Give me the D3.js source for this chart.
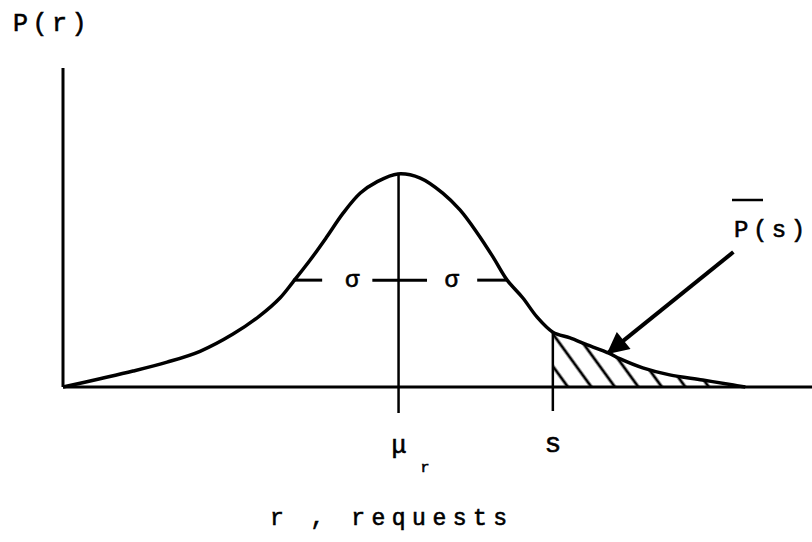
<!DOCTYPE html>
<html>
<head>
<meta charset="utf-8">
<title>P(r) normal curve</title>
<script src="https://cdn.jsdelivr.net/npm/d3@7"></script>
<style>
  body { margin: 0; background: #fff; }
  text { font-family: "Liberation Mono", "DejaVu Sans Mono", monospace; fill: #000; stroke: #000; stroke-width: 0.6px; }
</style>
</head>
<body>
<div id="chart"></div>
<script>
// hand drawn demand curve (r in arbitrary units, P relative)
var curveR = [0, 4.94, 9.35, 13.9, 18.3, 22.7, 26.3, 29.0, 30.7, 33.0, 35.2, 37.4, 39.7, 41.9, 44.7, 47.7, 50.7, 53.0, 55.3, 57.4, 59.3, 61.4, 63.3, 65.4, 67.7, 70.0, 72.8, 74.4, 77.4, 81.0, 85.4, 89.5, 91.1];
var curveP = [0, 0.026, 0.050, 0.078, 0.112, 0.166, 0.224, 0.280, 0.329, 0.398, 0.470, 0.545, 0.608, 0.643, 0.668, 0.655, 0.608, 0.555, 0.483, 0.408, 0.335, 0.279, 0.219, 0.172, 0.154, 0.132, 0.107, 0.088, 0.060, 0.038, 0.022, 0.006, 0];

var meanR = 44.8;
var peakP = 0.668;
var sR = 65.4;
var sP = 0.172;

// sigma dashes at half height
var sigmaLevel = 0.335;
var sigmaSegments = [[30.7, 34.6], [41.3, 48.6], [55.3, 59.2]];
var sigmaLabelR = [38.6, 51.9];

// arrow pointing at the tail area
var arrowFrom = [89.5, 0.423];
var arrowTo = [72.8, 0.107];

var W = 812, H = 542;

var svg = d3.select("#chart").append("svg")
    .attr("width", W)
    .attr("height", H);

var x = d3.scaleLinear().domain([0, 100]).range([63, 812]);
var y = d3.scaleLinear().domain([0, 1]).range([387, 68]);

var pts = curveR.map(function(r, i) { return [r, curveP[i]]; });

var defs = svg.append("defs");

// hatch pattern
defs.append("pattern")
    .attr("id", "hatch")
    .attr("patternUnits", "userSpaceOnUse")
    .attr("width", 19)
    .attr("height", 19)
    .attr("patternTransform", "rotate(-36)")
  .append("line")
    .attr("x1", 4).attr("y1", -2)
    .attr("x2", 4).attr("y2", 21)
    .attr("stroke", "#000")
    .attr("stroke-width", 2.8);

defs.append("clipPath")
    .attr("id", "tailClip")
  .append("rect")
    .attr("x", x(sR))
    .attr("y", y(1))
    .attr("width", x(100) - x(sR))
    .attr("height", y(0) - y(1));

defs.append("marker")
    .attr("id", "arrowHead")
    .attr("viewBox", "0 0 10 10")
    .attr("refX", 9)
    .attr("refY", 5)
    .attr("markerWidth", 7)
    .attr("markerHeight", 5.5)
    .attr("markerUnits", "strokeWidth")
    .attr("orient", "auto")
  .append("path")
    .attr("d", "M0,0 L10,5 L0,10 Z")
    .attr("fill", "#000");

// shaded tail P(s)
var area = d3.area()
    .x(function(d) { return x(d[0]); })
    .y0(y(0))
    .y1(function(d) { return y(d[1]); })
    .curve(d3.curveCatmullRom);

svg.append("path")
    .datum(pts)
    .attr("d", area)
    .attr("fill", "url(#hatch)")
    .attr("clip-path", "url(#tailClip)");

// axes
svg.append("line")
    .attr("x1", x(0)).attr("x2", x(100))
    .attr("y1", y(0)).attr("y2", y(0))
    .attr("stroke", "#000").attr("stroke-width", 3);

svg.append("line")
    .attr("x1", x(0)).attr("x2", x(0))
    .attr("y1", y(0)).attr("y2", y(1))
    .attr("stroke", "#000").attr("stroke-width", 3);

// curve
var line = d3.line()
    .x(function(d) { return x(d[0]); })
    .y(function(d) { return y(d[1]); })
    .curve(d3.curveCatmullRom);

svg.append("path")
    .datum(pts)
    .attr("d", line)
    .attr("fill", "none")
    .attr("stroke", "#000")
    .attr("stroke-width", 3.5);

// mean line + tick
svg.append("line")
    .attr("x1", x(meanR)).attr("x2", x(meanR))
    .attr("y1", y(peakP)).attr("y2", y(0) + 26)
    .attr("stroke", "#000").attr("stroke-width", 2.5);

// s line + tick
svg.append("line")
    .attr("x1", x(sR)).attr("x2", x(sR))
    .attr("y1", y(sP)).attr("y2", y(0) + 24)
    .attr("stroke", "#000").attr("stroke-width", 2.5);

// sigma dashes
svg.selectAll(".sig")
    .data(sigmaSegments)
    .enter().append("line")
    .attr("class", "sig")
    .attr("x1", function(d) { return x(d[0]); })
    .attr("x2", function(d) { return x(d[1]); })
    .attr("y1", y(sigmaLevel)).attr("y2", y(sigmaLevel))
    .attr("stroke", "#000").attr("stroke-width", 3);

svg.selectAll(".sigLabel")
    .data(sigmaLabelR)
    .enter().append("text")
    .attr("class", "sigLabel")
    .attr("x", function(d) { return x(d); })
    .attr("y", y(sigmaLevel) + 7)
    .attr("text-anchor", "middle")
    .style("font-size", "24px")
    .text("σ");

// arrow
svg.append("line")
    .attr("x1", x(arrowFrom[0])).attr("y1", y(arrowFrom[1]))
    .attr("x2", x(arrowTo[0])).attr("y2", y(arrowTo[1]))
    .attr("stroke", "#000").attr("stroke-width", 4)
    .attr("marker-end", "url(#arrowHead)");

// labels
svg.append("text")
    .attr("x", 13).attr("y", 31)
    .style("font-size", "25px")
    .style("letter-spacing", "4.5px")
    .text("P(r)");

svg.append("text")
    .attr("x", 734).attr("y", 237)
    .style("font-size", "24px")
    .style("letter-spacing", "4.5px")
    .text("P(s)");

svg.append("line")
    .attr("x1", 732).attr("x2", 763)
    .attr("y1", 200).attr("y2", 200)
    .attr("stroke", "#000").attr("stroke-width", 2.5);

var mu = svg.append("text")
    .attr("x", x(meanR) - 7).attr("y", 453)
    .style("font-size", "25px");
mu.append("tspan").text("μ");
mu.append("tspan")
    .attr("x", x(meanR) + 22).attr("y", 472)
    .style("font-size", "15px")
    .text("r");

svg.append("text")
    .attr("x", x(sR)).attr("y", 452)
    .attr("text-anchor", "middle")
    .style("font-size", "28px")
    .text("s");

svg.append("text")
    .attr("x", 270).attr("y", 525)
    .style("font-size", "23px")
    .style("letter-spacing", "6.5px")
    .text("r , requests");
</script>
</body>
</html>
